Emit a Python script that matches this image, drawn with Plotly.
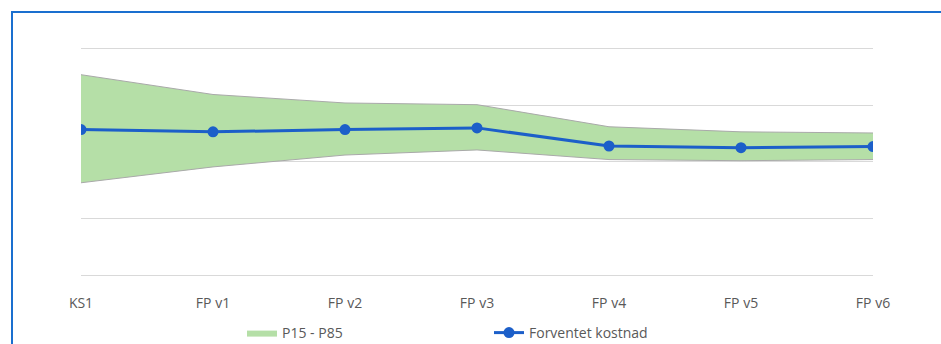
import plotly.graph_objects as go

# Prosjektfaser
categories = ["KS1", "FP v1", "FP v2", "FP v3", "FP v4", "FP v5", "FP v6"]

# Forventet kostnad og usikkerhetsintervall (P15 - P85)
expected = [2.57, 2.53, 2.57, 2.60, 2.28, 2.25, 2.27]
p85 = [3.54, 3.19, 3.04, 3.01, 2.62, 2.53, 2.51]
p15 = [1.63, 1.91, 2.12, 2.21, 2.04, 2.02, 2.04]

BAND_FILL = "#b5dfa7"
BAND_EDGE = "#a9a9a9"
LINE_BLUE = "#1c5fc9"
TEXT_GREY = "#595959"
GRID_GREY = "#d9d9d9"
FRAME_BLUE = "#1a6fcf"

W, H = 941, 344
ML, MR, MT, MB = 81, 68, 43, 69
Y_TOP = 4.1

fig = go.Figure()

# lower edge of the band
fig.add_trace(go.Scatter(
    x=categories, y=p15, mode="lines",
    line=dict(color=BAND_EDGE, width=1),
    showlegend=False, hoverinfo="skip",
))
# filled band between P15 and P85
fig.add_trace(go.Scatter(
    x=categories, y=p85, mode="lines", fill="tonexty",
    fillcolor=BAND_FILL, line=dict(color=BAND_FILL, width=0),
    name="P15 - P85",
))
# upper edge of the band
fig.add_trace(go.Scatter(
    x=categories, y=p85, mode="lines",
    line=dict(color=BAND_EDGE, width=1),
    showlegend=False, hoverinfo="skip",
))
# expected cost
fig.add_trace(go.Scatter(
    x=categories, y=expected, mode="lines+markers",
    line=dict(color=LINE_BLUE, width=3),
    marker=dict(color=LINE_BLUE, size=11),
    name="Forventet kostnad",
))

plot_w = W - ML - MR
plot_h = H - MT - MB

# thin blue frame around the chart area (right and bottom edges run off the page)
fig.add_shape(
    type="rect", xref="paper", yref="paper",
    x0=(12 - ML) / plot_w, x1=(W + 200 - ML) / plot_w,
    y0=(H - MB - (H + 200)) / plot_h, y1=(H - MB - 12) / plot_h,
    line=dict(color=FRAME_BLUE, width=2), fillcolor="rgba(0,0,0,0)",
    layer="below",
)

fig.update_layout(
    width=W, height=H,
    margin=dict(l=ML, r=MR, t=MT, b=MB, pad=0, autoexpand=False),
    paper_bgcolor="white", plot_bgcolor="white",
    font=dict(family="Open Sans, Liberation Sans, sans-serif", size=13, color=TEXT_GREY),
    xaxis=dict(
        type="category", range=[0, len(categories) - 1],
        showgrid=False, showline=False, zeroline=False,
        ticks="", ticklabelstandoff=18, automargin=False,
        tickfont=dict(size=14, color=TEXT_GREY),
        fixedrange=True,
    ),
    yaxis=dict(
        range=[0, Y_TOP], dtick=1, tick0=0,
        showgrid=True, gridcolor=GRID_GREY, gridwidth=1,
        zeroline=True, zerolinecolor=GRID_GREY, zerolinewidth=1,
        showticklabels=False, ticks="", showline=False, automargin=False,
        fixedrange=True,
    ),
    legend=dict(
        orientation="h", traceorder="normal",
        x=(242 - ML) / plot_w, xanchor="left",
        y=(H - MB - 317) / plot_h, yanchor="top",
        entrywidthmode="pixels", entrywidth=202,
        font=dict(size=14, color=TEXT_GREY),
        bgcolor="rgba(0,0,0,0)",
    ),
    showlegend=True,
)

fig.write_html("out.html")
